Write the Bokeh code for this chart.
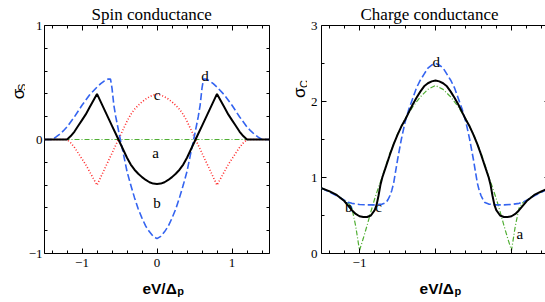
import math
from bokeh.plotting import figure
from bokeh.models import Range1d, LinearAxis, FixedTicker, Title
from bokeh.core.properties import value
from bokeh.layouts import row, column
from bokeh.embed import file_html
from bokeh.resources import INLINE

# ---------------- data: spin conductance (left panel) ----------------
spin_title = "Spin conductance"
spin_bc_x = [-1.5, -1.2, -1.15, -1.1, -1.05, -1.0, -0.95, -0.9, -0.85, -0.8, -0.75, -0.7, -0.65, -0.6,
             -0.55, -0.5, -0.45, -0.4, -0.35, -0.3, -0.25, -0.2, -0.15, -0.1, -0.05, 0.0,
             0.05, 0.1, 0.15, 0.2, 0.25, 0.3, 0.35, 0.4, 0.45, 0.5, 0.55, 0.6, 0.65, 0.7, 0.75,
             0.8, 0.85, 0.9, 0.95, 1.0, 1.05, 1.1, 1.15, 1.2, 1.5]
spin_b = [0, 0, 0.03, 0.07, 0.12, 0.17, 0.22, 0.28, 0.34, 0.40, 0.33, 0.26, 0.19, 0.12,
          0.05, -0.02, -0.09, -0.16, -0.22, -0.265, -0.30, -0.33, -0.355, -0.375, -0.387, -0.39,
          -0.387, -0.375, -0.355, -0.33, -0.30, -0.265, -0.22, -0.16, -0.09, -0.02, 0.05, 0.12, 0.19, 0.26, 0.33,
          0.40, 0.34, 0.28, 0.22, 0.17, 0.12, 0.07, 0.03, 0, 0]
spin_c = [0, 0, -0.03, -0.07, -0.12, -0.17, -0.22, -0.28, -0.34, -0.40, -0.33, -0.26, -0.19, -0.12,
          -0.05, 0.02, 0.09, 0.16, 0.22, 0.265, 0.30, 0.33, 0.355, 0.375, 0.39, 0.395,
          0.39, 0.375, 0.355, 0.33, 0.30, 0.265, 0.22, 0.16, 0.09, 0.02, -0.05, -0.12, -0.19, -0.26, -0.33,
          -0.40, -0.34, -0.28, -0.22, -0.17, -0.12, -0.07, -0.03, 0, 0]
spin_d_x = [-1.5, -1.4, -1.35, -1.3, -1.25, -1.2, -1.1, -1.0, -0.9, -0.8, -0.75, -0.7, -0.65, -0.62,
            -0.6, -0.575, -0.55, -0.5, -0.45, -0.4, -0.35, -0.3, -0.25, -0.2, -0.15, -0.1, -0.05, 0.0,
            0.05, 0.1, 0.15, 0.2, 0.25, 0.3, 0.35, 0.4, 0.45, 0.5, 0.55, 0.575, 0.6,
            0.62, 0.65, 0.7, 0.75, 0.8, 0.9, 1.0, 1.1, 1.2, 1.25, 1.3, 1.35, 1.4, 1.5]
spin_d = [0, 0, 0.02, 0.045, 0.075, 0.11, 0.20, 0.30, 0.39, 0.46, 0.49, 0.515, 0.53, 0.53,
          0.45, 0.30, 0.20, 0.035, -0.12, -0.28, -0.40, -0.51, -0.61, -0.69, -0.76, -0.81, -0.85, -0.87,
          -0.85, -0.81, -0.76, -0.69, -0.61, -0.51, -0.40, -0.28, -0.12, 0.035, 0.20, 0.30, 0.45,
          0.53, 0.53, 0.515, 0.49, 0.46, 0.39, 0.30, 0.20, 0.11, 0.075, 0.045, 0.02, 0, 0]
spin_a_x = [-1.5, 1.5]
spin_a = [0, 0]
spin_xticks = [-1, 0, 1]
spin_xtick_labels = ["\u22121", "0", "1"]
spin_xminor = [-1.4, -1.2, -0.8, -0.6, -0.4, -0.2, 0.2, 0.4, 0.6, 0.8, 1.2, 1.4]
spin_yticks = [-1, 0, 1]
spin_ytick_labels = ["\u22121", "0", "1"]
spin_yminor = [-0.8, -0.6, -0.4, -0.2, 0.2, 0.4, 0.6, 0.8]
spin_ylabel = ["\u03c3", "S"]
spin_curve_labels = ["c", "a", "b", "d"]
spin_curve_label_x = [0.0, -0.02, 0.0, 0.64]
spin_curve_label_y = [0.39, -0.12, -0.56, 0.555]

# ---------------- data: charge conductance (right panel) ----------------
charge_title = "Charge conductance"
charge_b_x = [-1.5, -1.4, -1.3, -1.2, -1.15, -1.1, -1.05, -1.0, -0.95, -0.9, -0.85, -0.8,
              -0.775, -0.75, -0.725, -0.7, -0.65, -0.6, -0.55, -0.5, -0.45, -0.4, -0.35, -0.3,
              -0.25, -0.2, -0.15, -0.1, -0.05, 0.0,
              0.05, 0.1, 0.15, 0.2, 0.25, 0.3, 0.35, 0.4, 0.45, 0.5, 0.55, 0.6, 0.65, 0.7,
              0.725, 0.75, 0.775, 0.8, 0.85, 0.9, 0.95, 1.0, 1.05, 1.1, 1.15, 1.2, 1.3, 1.4, 1.5]
charge_b = [0.86, 0.82, 0.77, 0.69, 0.63, 0.57, 0.52, 0.49, 0.48, 0.48, 0.50, 0.57,
            0.64, 0.76, 0.90, 1.00, 1.15, 1.30, 1.44, 1.56, 1.67, 1.76, 1.86, 1.96,
            2.05, 2.13, 2.20, 2.24, 2.265, 2.275,
            2.265, 2.24, 2.20, 2.13, 2.05, 1.96, 1.86, 1.76, 1.67, 1.56, 1.44, 1.30, 1.15, 1.00,
            0.90, 0.76, 0.64, 0.57, 0.50, 0.48, 0.48, 0.49, 0.52, 0.57, 0.63, 0.69, 0.77, 0.82, 0.86]
charge_d_x = [-1.5, -1.4, -1.3, -1.2, -1.15, -1.1, -1.0, -0.9, -0.8, -0.7, -0.65, -0.625, -0.6,
              -0.575, -0.55, -0.5, -0.45, -0.4, -0.35, -0.3, -0.25, -0.2, -0.15, -0.1, -0.05, 0.0,
              0.05, 0.1, 0.15, 0.2, 0.25, 0.3, 0.35, 0.4, 0.45, 0.5, 0.55, 0.575,
              0.6, 0.625, 0.65, 0.7, 0.8, 0.9, 1.0, 1.1, 1.15, 1.2, 1.3, 1.4, 1.5]
charge_d = [0.86, 0.81, 0.76, 0.70, 0.675, 0.66, 0.645, 0.64, 0.64, 0.65, 0.67, 0.71, 0.76,
            0.83, 0.93, 1.23, 1.50, 1.73, 1.90, 2.04, 2.18, 2.28, 2.36, 2.44, 2.48, 2.50,
            2.48, 2.44, 2.36, 2.28, 2.18, 2.04, 1.90, 1.73, 1.50, 1.23, 0.93, 0.83,
            0.76, 0.71, 0.67, 0.65, 0.64, 0.64, 0.645, 0.66, 0.675, 0.70, 0.76, 0.81, 0.86]
charge_a_x = [-1.5, -1.4, -1.3, -1.2, -1.15, -1.1, -1.05, -1.0, -0.95, -0.9, -0.85, -0.8,
              -0.75, -0.7, -0.6, -0.5, -0.4, -0.3, -0.2, -0.1, 0.0,
              0.1, 0.2, 0.3, 0.4, 0.5, 0.6, 0.7, 0.75, 0.8, 0.85, 0.9, 0.95, 1.0, 1.05,
              1.1, 1.15, 1.2, 1.3, 1.4, 1.5]
charge_a = [0.86, 0.81, 0.77, 0.70, 0.67, 0.60, 0.36, 0.04, 0.20, 0.37, 0.55, 0.72,
            0.87, 1.01, 1.32, 1.57, 1.77, 1.93, 2.06, 2.16, 2.21,
            2.16, 2.06, 1.93, 1.77, 1.57, 1.32, 1.01, 0.87, 0.72, 0.55, 0.37, 0.20, 0.04, 0.36,
            0.60, 0.67, 0.70, 0.77, 0.81, 0.86]
charge_xticks = [-1, 0, 1]
charge_xtick_labels = ["\u22121", "", ""]
charge_xminor = [-1.4, -1.2, -0.8, -0.6, -0.4, -0.2, 0.2, 0.4, 0.6, 0.8, 1.2, 1.4]
charge_yticks = [0, 1, 2, 3]
charge_ytick_labels = ["0", "1", "2", "3"]
charge_yminor = [0.5, 1.5, 2.5]
charge_ylabel = ["\u03c3", "C"]
charge_curve_labels = ["d", "b", "c", "a"]
charge_curve_label_x = [0.01, -1.14, -0.75, 1.11]
charge_curve_label_y = [2.52, 0.61, 0.61, 0.26]

xlabel_main = "eV/\u0394"
xlabel_sub = "p"

# ---------------- styling / layout ----------------
SERIF = "Liberation Serif"
SANS = "Liberation Sans"
COL_A = "#4fae32"
COL_B = "#000000"
COL_C = "#ff2a2a"
COL_D = "#3464f0"
TOTAL_W = 545
FRAME_H = 228
PANEL_TOP = 25
PANEL_BOTTOM = 21
PANEL_H = PANEL_TOP + FRAME_H + PANEL_BOTTOM
XLAB_H = 302 - PANEL_H
SIG_L_W = 25
SIG_R_W = 26


def make_panel(fw, bl, br, xr, yr, xt, xtl, xmin, yt, ytl, ymin, ystand, title, title_offset):
    p = figure(frame_width=fw, frame_height=FRAME_H,
               min_border_left=bl, min_border_right=br,
               min_border_top=PANEL_TOP, min_border_bottom=PANEL_BOTTOM,
               x_range=Range1d(*xr), y_range=Range1d(*yr),
               x_axis_location=None, y_axis_location=None,
               output_backend="svg", toolbar_location=None)
    p.grid.visible = False
    p.outline_line_color = "black"
    p.outline_line_width = 1
    p.outline_line_alpha = 1
    p.background_fill_color = "white"
    p.border_fill_color = "white"
    for loc in ("below", "left", "above", "right"):
        if loc in ("below", "above"):
            tk, tl, mn = xt, xtl, xmin
        else:
            tk, tl, mn = yt, ytl, ymin
        ax = LinearAxis(ticker=FixedTicker(ticks=tk, minor_ticks=mn))
        ax.axis_line_color = None
        ax.major_tick_in = 5
        ax.major_tick_out = 0
        ax.minor_tick_in = 3
        ax.minor_tick_out = 0
        ax.major_tick_line_color = "black"
        ax.minor_tick_line_color = "black"
        if loc in ("below", "left"):
            ax.major_label_overrides = {v: s for v, s in zip(tk, tl)}
            ax.major_label_text_font = SERIF
            ax.major_label_text_font_size = "13px"
            ax.major_label_text_color = "black"
            ax.major_label_standoff = 5 if loc == "below" else ystand
        else:
            ax.major_label_overrides = {v: "" for v in tk}
            ax.major_label_text_font_size = "0px"
            ax.major_label_standoff = 0
        p.add_layout(ax, loc)
    p.add_layout(Title(text=title, align="left", offset=title_offset, standoff=0,
                       vertical_align="top", text_font=SERIF, text_font_size="17px",
                       text_font_style="normal", text_color="black"), "above")
    return p


def text_strip(w, h):
    f = figure(width=w, height=h, x_range=Range1d(0, w), y_range=Range1d(h, 0),
               min_border=0, x_axis_location=None, y_axis_location=None,
               output_backend="svg", toolbar_location=None)
    f.grid.visible = False
    f.outline_line_color = None
    f.background_fill_color = "white"
    f.border_fill_color = "white"
    return f


def put_text(f, texts, xs, ys, size, font, align="center", angle=0.0, style="normal"):
    f.text(x=xs, y=ys, text=texts, text_font=value(font), text_font_size=value(size),
           text_font_style=style, text_color="black", text_align=align,
           text_baseline="alphabetic", angle=angle)


# ---------------- left panel ----------------
p1 = make_panel(225, 16, 12, (-1.5, 1.5), (-1, 1),
                spin_xticks, spin_xtick_labels, spin_xminor,
                spin_yticks, spin_ytick_labels, spin_yminor, 2, spin_title, 47)
p1.line(spin_a_x, spin_a, line_color=COL_A, line_width=1.2, line_dash="5 2 1 2")
p1.line(spin_bc_x, spin_c, line_color=COL_C, line_width=1.6, line_dash="1 2")
p1.line(spin_d_x, spin_d, line_color=COL_D, line_width=1.6, line_dash="7 3")
p1.line(spin_bc_x, spin_b, line_color=COL_B, line_width=2)
p1.text(x=spin_curve_label_x, y=spin_curve_label_y, text=spin_curve_labels,
        text_font=value(SERIF), text_font_size=value("15px"), text_color="black",
        text_align="center", text_baseline="alphabetic")

# ---------------- right panel ----------------
p2 = make_panel(228, 12, 1, (-1.5, 1.5), (0, 3),
                charge_xticks, charge_xtick_labels, charge_xminor,
                charge_yticks, charge_ytick_labels, charge_yminor, 4, charge_title, 39)
p2.line(charge_a_x, charge_a, line_color=COL_A, line_width=1.2, line_dash="5 2 1 2")
p2.line(charge_d_x, charge_d, line_color=COL_D, line_width=1.6, line_dash="7 3")
p2.line(charge_b_x, charge_b, line_color=COL_B, line_width=2)
p2.text(x=charge_curve_label_x, y=charge_curve_label_y, text=charge_curve_labels,
        text_font=value(SERIF), text_font_size=value("15px"), text_color="black",
        text_align="center", text_baseline="alphabetic")

# ---------------- text strips (axis titles) ----------------
# rotated labels are anchored at their upper end (text_align right, reading upward)
sig_l = text_strip(SIG_L_W, PANEL_H)
put_text(sig_l, [spin_ylabel[0]], [17.5], [76.0], "17px", SANS, align="right", angle=math.pi / 2)
put_text(sig_l, [spin_ylabel[1]], [21.0], [70.0], "11px", SANS, align="right", angle=math.pi / 2)

sig_r = text_strip(SIG_R_W, PANEL_H)
put_text(sig_r, [charge_ylabel[0]], [18.0], [74.5], "17px", SANS, align="right", angle=math.pi / 2)
put_text(sig_r, [charge_ylabel[1]], [22.0], [65.5], "11px", SANS, align="right", angle=math.pi / 2)

xlab = text_strip(TOTAL_W, XLAB_H)
put_text(xlab, [xlabel_main, xlabel_main], [176.3, 453.5], [14.2, 14.2], "15.5px", SANS,
         align="right", style="bold")
put_text(xlab, [xlabel_sub, xlabel_sub], [176.8, 454.0], [16.2, 16.2], "11px", SANS,
         align="left", style="bold")

layout = column(row(sig_l, p1, sig_r, p2, spacing=0), xlab, spacing=0)
open("out.html", "w").write(file_html(layout, INLINE))
